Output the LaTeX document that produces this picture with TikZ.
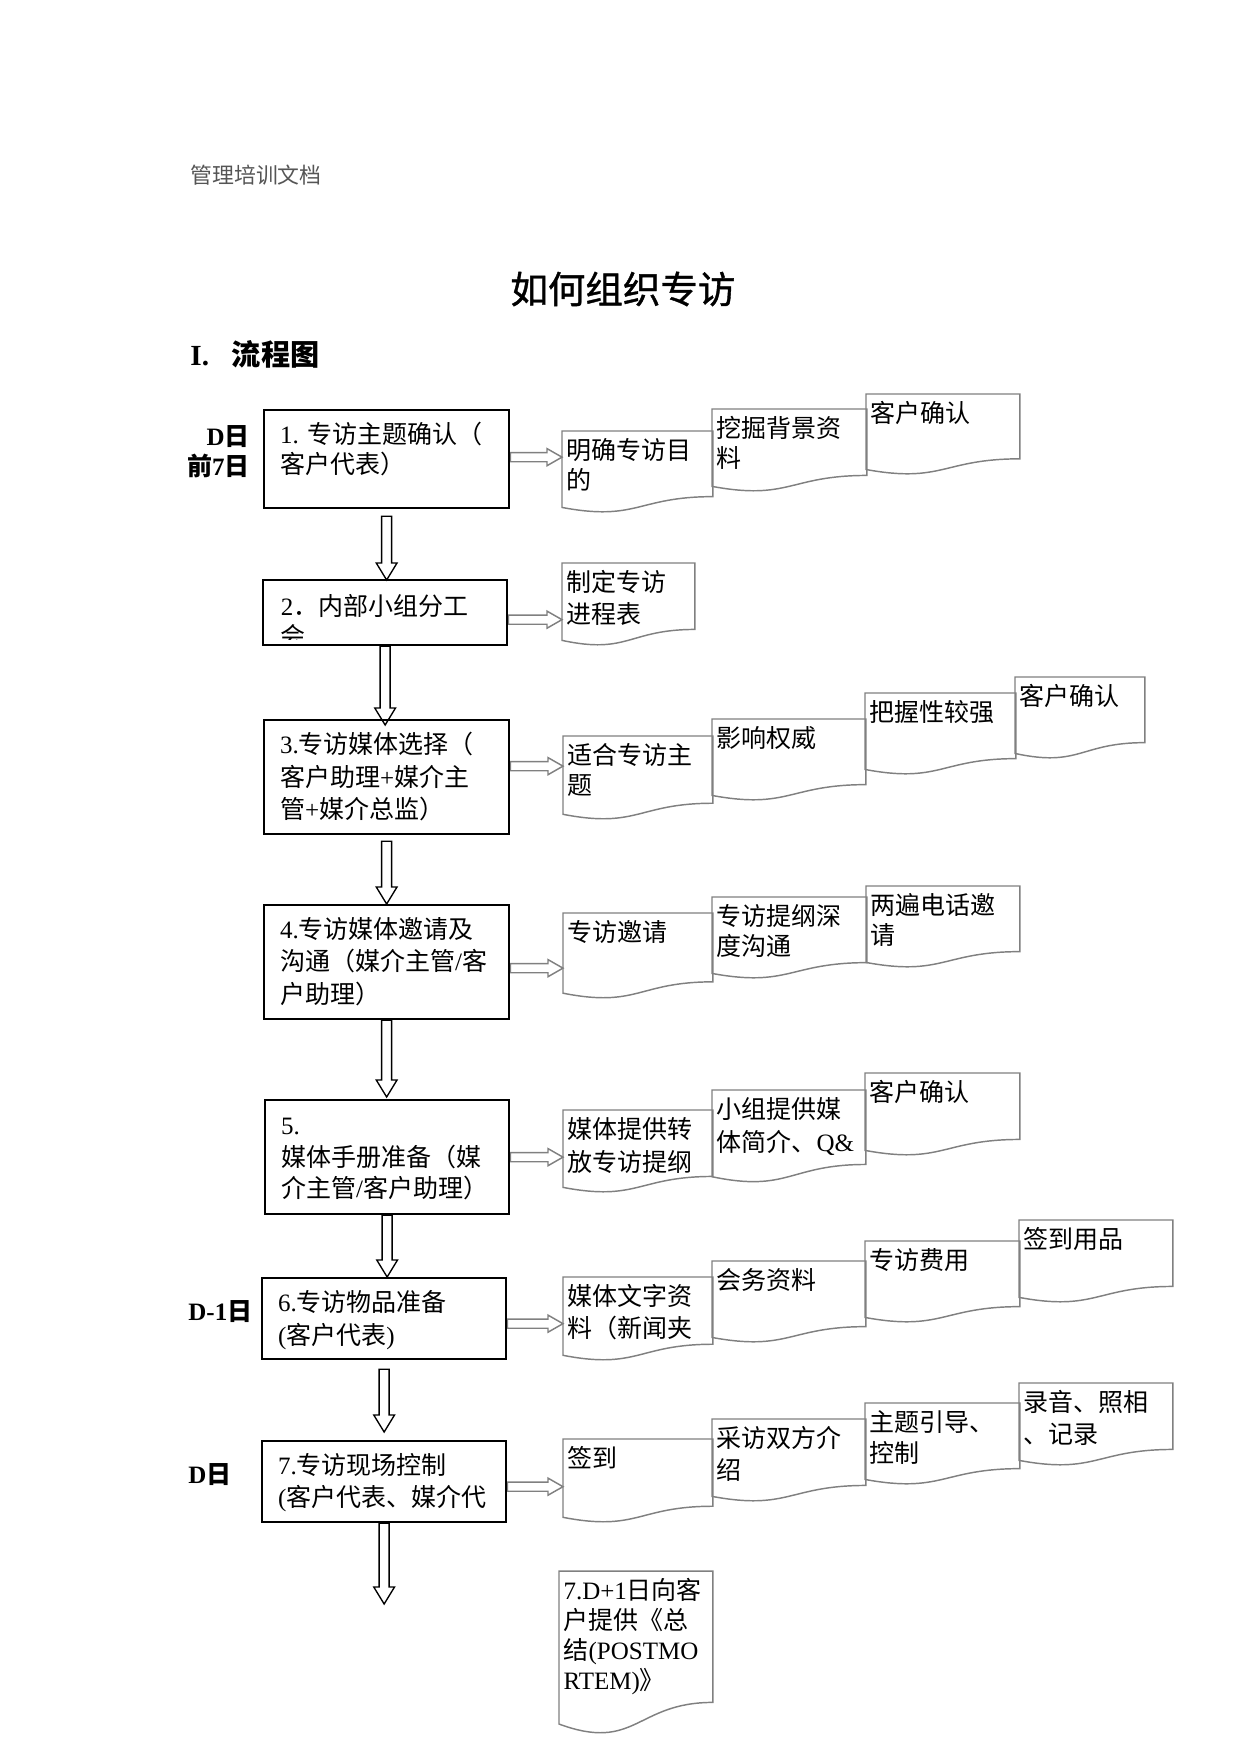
\documentclass[tikz,border=0pt]{standalone}
\usepackage{fontspec}
\setmainfont{Liberation Serif}
\newfontfamily\cjkfont{Noto Sans CJK SC}
\newfontfamily\cjktitle{Noto Sans CJK SC}[FakeBold=1]
\usepackage{tikz}
\usetikzlibrary{calc,backgrounds}
\definecolor{docgrey}{HTML}{808080}
\definecolor{hdrgrey}{HTML}{555555}

% Chinese characters switch to the CJK face
\XeTeXinterchartokenstate=1
\ifdefined\newXeTeXintercharclass \newXeTeXintercharclass\cjkcls \else \chardef\cjkcls=7 \fi
\newcount\cjkcnt
\newcommand\cjkrange[2]{\cjkcnt=#1
  \loop\XeTeXcharclass\cjkcnt=\cjkcls
  \ifnum\cjkcnt<#2 \advance\cjkcnt by 1 \repeat}
\cjkrange{"3000}{"303F}
\cjkrange{"4E00}{"9FFF}
\cjkrange{"FF00}{"FFEF}
\XeTeXinterchartoks 0 \cjkcls = {\cjkfont}
\XeTeXinterchartoks 4095 \cjkcls = {\cjkfont}
\XeTeXinterchartoks \cjkcls 0 = {\rmfamily}
\XeTeXinterchartoks \cjkcls 4095 = {\rmfamily}

% block arrow down from node #1 to node #2 (#3,#4: offsets in px)
\newcommand\varr[4]{%
  \draw[vblock] let \p1=($(#1.-90)+(0,#3)$),\p2=($(#2.90)+(0,#4)$) in
    (\x1-2.4pt,\y1) -- (\x1+2.4pt,\y1) -- (\x1+2.4pt,\y2+8.2pt) -- (\x1+5pt,\y2+8.2pt)
    -- (\x1,\y2) -- (\x1-5pt,\y2+8.2pt) -- (\x1-2.4pt,\y2+8.2pt) -- cycle;}
% grey block arrow right from node #1 to node #2 (#3: y offset in px)
\newcommand\harr[3]{%
  \draw[hblock] let \p1=($(#1.0)+(0,#3)$),\p2=(#2.180) in
    (\x1,\y1+2.2pt) -- (\x2-7.2pt,\y1+2.2pt) -- (\x2-7.2pt,\y1+4.1pt) -- (\x2,\y1)
    -- (\x2-7.2pt,\y1-4.1pt) -- (\x2-7.2pt,\y1-2.2pt) -- (\x1,\y1-2.2pt) -- cycle;}

\begin{document}
\begin{tikzpicture}[x=0.48pt,y=-0.48pt,
  wh/.style 2 args={minimum width=#1*0.48pt,minimum height=#2*0.48pt},
  procbox/.style={draw=black,line width=1.1pt,anchor=north west,inner sep=0pt},
  docbox/.style={anchor=north west,inner sep=0pt},
  btxt/.style={anchor=north west,align=left,inner xsep=8pt,inner ysep=6.2pt,font=\fontsize{12pt}{#1}\selectfont},
  btxt/.default=14.4pt,
  dtxt/.style={anchor=north west,align=left,inner xsep=2pt,inner ysep=3.3pt,font=\fontsize{12pt}{#1}\selectfont},
  dtxt/.default=14.4pt,
  docline/.style={draw=docgrey,line width=0.7pt},
  vblock/.style={draw=black,line width=0.65pt,fill=white,line join=miter},
  hblock/.style={draw=docgrey,line width=0.7pt,fill=white,line join=miter},
  daylbl/.style={font=\bfseries\fontsize{12pt}{14.4pt}\selectfont,inner sep=0pt}]
\useasboundingbox (0,0) rectangle (1241,1754);

\node[anchor=west,inner sep=0pt,text=hdrgrey,font=\fontsize{10.5pt}{12pt}\selectfont] (hdr) at (190,175) {管理培训文档};
\node[anchor=west,inner sep=0pt,font=\fontsize{18pt}{21pt}\selectfont] (ttl) at (510,289) {\XeTeXinterchartokenstate=0 \cjktitle 如何组织专访};
\node[anchor=west,inner sep=0pt,font=\bfseries\fontsize{14pt}{17pt}\selectfont] (sec) at (190,354) {I.\hspace{11pt}流程图};

\node[daylbl,anchor=north east,align=right] (dayA) at (250,425) {D日\\前7日};
\node[daylbl,anchor=west] (dayB) at (188,1312) {D-1日};
\node[daylbl,anchor=west] (dayC) at (188,1475) {D日};

% process boxes
\node[procbox,wh={245}{98},label={[btxt]north west:1. 专访主题确认（\\客户代表）}] (b1) at (263,409) {};
\node[procbox,wh={244}{65},path picture={
    \clip (path picture bounding box.north west) rectangle ([yshift=2.9pt]path picture bounding box.south east);
    \node[btxt,draw=none,minimum width=0pt,minimum height=0pt] (b2t) at (path picture bounding box.north west) {2．内部小组分工\\会};}] (b2) at (262,579) {};
\node[procbox,wh={245}{114},label={[btxt=15.6pt]north west:3.专访媒体选择（\\客户助理+媒介主\\管+媒介总监）}] (b3) at (263,719) {};
\node[procbox,wh={245}{114},label={[btxt=15.6pt]north west:4.专访媒体邀请及\\沟通（媒介主管/客\\户助理）}] (b4) at (263,904) {};
\node[procbox,wh={244}{114},label={[btxt=15.2pt,yshift=-2.7pt]north west:5.\\媒体手册准备（媒\\介主管/客户助理）}] (b5) at (264,1099) {};
\node[procbox,wh={244}{81},label={[btxt=16pt]north west:6.专访物品准备\\(客户代表)}] (b6) at (261,1277) {};
\node[procbox,wh={244}{81},label={[btxt=15.2pt]north west:7.专访现场控制\\(客户代表、媒介代}] (b7) at (261,1440) {};
\coordinate (end7) at (383,1604);

% documents
\node[docbox,wh={150}{81},label={[dtxt]north west:明确专访目\\的}] (d11) at (562,431) {};
\node[docbox,wh={154}{82},label={[dtxt]north west:挖掘背景资\\料}] (d12) at (712,409) {};
\node[docbox,wh={153}{80},label={[dtxt]north west:客户确认}] (d13) at (866,394) {};

\node[docbox,wh={132}{82},label={[dtxt=15.2pt]north west:制定专访\\进程表}] (d21) at (562,563) {};

\node[docbox,wh={149}{83},label={[dtxt]north west:适合专访主\\题}] (d31) at (563,736) {};
\node[docbox,wh={153}{81},label={[dtxt]north west:影响权威}] (d32) at (712,719) {};
\node[docbox,wh={150}{81},label={[dtxt]north west:把握性较强}] (d33) at (865,693) {};
\node[docbox,wh={129}{81},label={[dtxt]north west:客户确认}] (d34) at (1015,677) {};

\node[docbox,wh={149}{85},label={[dtxt]north west:专访邀请}] (d41) at (563,913) {};
\node[docbox,wh={154}{81},label={[dtxt]north west:专访提纲深\\度沟通}] (d42) at (712,897) {};
\node[docbox,wh={153}{81},label={[dtxt]north west:两遍电话邀\\请}] (d43) at (866,886) {};

\node[docbox,wh={149}{82},label={[dtxt=16pt]north west:媒体提供转\\放专访提纲}] (d51) at (563,1110) {};
\node[docbox,wh={153}{92},label={[dtxt=16pt]north west:小组提供媒\\体简介、Q\&}] (d52) at (712,1090) {};
\node[docbox,wh={154}{82},label={[dtxt=16pt]north west:客户确认}] (d53) at (865,1073) {};

\node[docbox,wh={149}{83},label={[dtxt=15.2pt]north west:媒体文字资\\料（新闻夹}] (d61) at (563,1277) {};
\node[docbox,wh={153}{81},label={[dtxt=15.2pt]north west:会务资料}] (d62) at (712,1261) {};
\node[docbox,wh={154}{81},label={[dtxt=15.2pt]north west:专访费用}] (d63) at (865,1241) {};
\node[docbox,wh={153}{82},label={[dtxt=15.2pt]north west:签到用品}] (d64) at (1019,1220) {};

\node[docbox,wh={149}{83},label={[dtxt=15.2pt]north west:签到}] (d71) at (563,1439) {};
\node[docbox,wh={153}{82},label={[dtxt=15.2pt]north west:采访双方介\\绍}] (d72) at (712,1419) {};
\node[docbox,wh={154}{81},label={[dtxt=15.2pt]north west:主题引导、\\控制}] (d73) at (865,1403) {};
\node[docbox,wh={153}{82},label={[dtxt=15.2pt]north west:录音、照相\\、记录}] (d74) at (1019,1383) {};

\node[docbox,wh={153}{163},label={[dtxt]north west:7.D+1日向客\\户提供《总\\结(POSTMO\\RTEM)》}] (d81) at (559,1571) {};

\foreach \dn in {d11,d12,d13,d21,d31,d32,d33,d34,d41,d42,d43,d51,d52,d53,d61,d62,d63,d64,d71,d72,d73,d74,d81}
  \draw[docline] (\dn.north west) -- (\dn.north east) -- ($(\dn.north east)!0.802!(\dn.south east)$)
    .. controls ($(\dn.north)!0.802!(\dn.south)$) and ($(\dn.north)!1.107!(\dn.south)$)
    .. ($(\dn.north west)!0.934!(\dn.south west)$) -- cycle;

\begin{scope}[on background layer]
\varr{b1}{b2}{7}{1}
\varr{b2}{b3}{0}{6}
\varr{b3}{b4}{6}{0}
\varr{b4}{b5}{0}{-2}
\varr{b5}{b6}{0}{0}
\varr{b6}{b7}{9}{-8}
\varr{b7}{end7}{0}{0}
\harr{b1}{d11}{-2}
\harr{b2}{d21}{7}
\harr{b3}{d31}{-11}
\harr{b4}{d41}{6}
\harr{b5}{d51}{0}
\harr{b6}{d61}{5}
\harr{b7}{d71}{5}
\end{scope}
\end{tikzpicture}
\end{document}
